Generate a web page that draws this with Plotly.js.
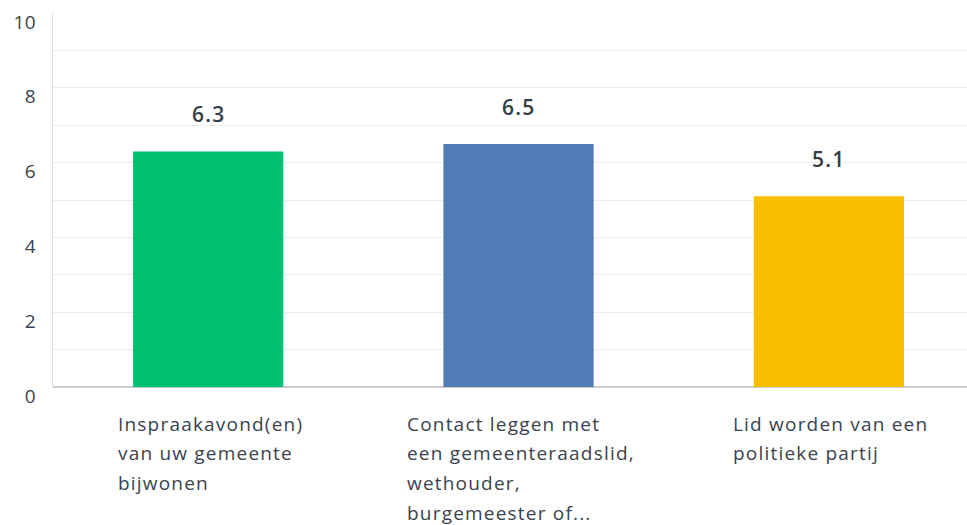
<!DOCTYPE html>
<html>
<head>
<meta charset="utf-8">
<script src="https://cdn.plot.ly/plotly-3.0.1.min.js"></script>
<style>
html,body{margin:0;padding:0;background:#fff;}
#chart{width:967px;height:525px;}
text.annotation-text{letter-spacing:1.2px;}
#chart .ytick text{letter-spacing:0.5px;}
</style>
</head>
<body>
<div id="chart"></div>
<script>
const categories = [
  "Inspraakavond(en)<br>van uw gemeente<br>bijwonen",
  "Contact leggen met<br>een gemeenteraadslid,<br>wethouder,<br>burgemeester of...",
  "Lid worden van een<br>politieke partij"
];
const values = [6.3, 6.5, 5.1];
const barColors = ["#00bf6f", "#507cb6", "#f9be00"];
const yTicks = [0, 2, 4, 6, 8, 10];

const textColor = "#3a434e";
const fontFam = "'Open Sans', sans-serif";
const catFontSize = 19;

const xIdx = categories.map((c, i) => i);

const canvas = document.createElement("canvas");
const ctx = canvas.getContext("2d");
ctx.font = catFontSize + "px 'Open Sans'";
try { ctx.letterSpacing = "1.2px"; } catch (e) {}

const annotations = [];
values.forEach((v, i) => {
  annotations.push({
    x: i, y: v, xref: "x", yref: "y",
    text: v.toFixed(1),
    showarrow: false, yanchor: "middle", yshift: 37,
    font: {family: fontFam, size: 21, color: "#333e48", weight: 600}
  });
});
categories.forEach((c, i) => {
  const lines = c.split("<br>");
  const w = Math.max(...lines.map(l => ctx.measureText(l).width));
  lines.forEach((l, j) => {
    annotations.push({
      x: i, y: 0, xref: "x", yref: "y",
      text: l, showarrow: false,
      xanchor: "left", yanchor: "middle",
      xshift: -w / 2, yshift: -(36.5 + j * 29.8),
      font: {family: fontFam, size: catFontSize, color: textColor}
    });
  });
});

const trace = {
  type: "bar",
  x: xIdx,
  y: values,
  width: 0.484,
  marker: {color: barColors},
  hoverinfo: "none"
};

const layout = {
  width: 967, height: 525,
  margin: {l: 53, r: 0, t: 12.7, b: 137.5},
  paper_bgcolor: "#ffffff",
  plot_bgcolor: "#ffffff",
  showlegend: false,
  font: {family: fontFam, color: textColor},
  xaxis: {
    range: [-0.5, 2.445],
    showticklabels: false,
    showgrid: false,
    zeroline: false,
    showline: false,
    fixedrange: true
  },
  yaxis: {
    range: [0, 10],
    tickvals: yTicks,
    ticktext: yTicks.map(String),
    tickfont: {family: fontFam, size: 19, color: textColor},
    showgrid: true,
    gridcolor: "#ececec",
    gridwidth: 1,
    minor: {dtick: 1, showgrid: true, gridcolor: "#ececec", gridwidth: 1},
    zeroline: true,
    zerolinecolor: "#cccccc",
    zerolinewidth: 1.5,
    showline: true,
    linecolor: "#dddddd",
    linewidth: 1,
    ticks: "",
    ticklabelstandoff: 12,
    ticklabelshift: 9,
    fixedrange: true
  },
  annotations: annotations
};

Plotly.newPlot("chart", [trace], layout, {displayModeBar: false, staticPlot: true});
</script>
</body>
</html>
